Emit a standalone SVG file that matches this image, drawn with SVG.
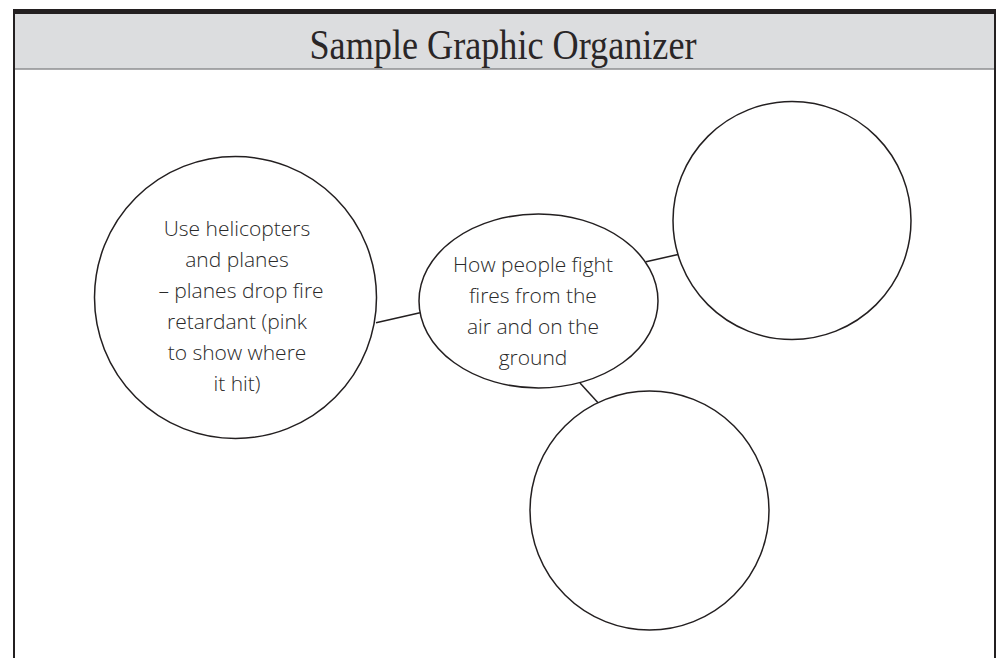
<svg xmlns="http://www.w3.org/2000/svg" width="998" height="658" viewBox="0 0 998 658">
<style>
.node{fill:#fff;stroke:#231f20;stroke-width:1.5}
.conn{stroke:#231f20;stroke-width:1.5;fill:none}
.hand{font-family:"Open Sans","Noto Sans","DejaVu Sans",sans-serif;font-weight:300;font-size:21px;fill:#2a2a2a;text-anchor:middle}
.title{font-family:"Liberation Serif","DejaVu Serif",serif;font-size:42px;fill:#2a2627;text-anchor:middle}
</style>
<rect x="0" y="0" width="998" height="658" fill="#fff"/>
<g id="frame">
<rect x="13" y="14" width="983" height="55" fill="#dcdddf"/>
<rect x="13" y="9" width="983" height="5" fill="#231f20"/>
<line x1="13" y1="69" x2="996" y2="69" stroke="#8e8e90" stroke-width="1.5"/>
<line x1="14" y1="9" x2="14" y2="658" stroke="#231f20" stroke-width="2"/>
<line x1="995" y1="9" x2="995" y2="658" stroke="#231f20" stroke-width="2"/>
<text class="title" x="503" y="59" textLength="387" lengthAdjust="spacingAndGlyphs">Sample Graphic Organizer</text>
</g>
<g id="connectors">
<line class="conn" x1="376" y1="322.7" x2="420" y2="312.7"/>
<line class="conn" x1="646" y1="261.7" x2="678" y2="254.5"/>
<line class="conn" x1="580" y1="383" x2="598" y2="402.7"/>
</g>
<g id="node-left">
<circle class="node" cx="235.5" cy="297.5" r="141"/>
<text class="hand"><tspan x="237" y="236">Use helicopters</tspan><tspan x="237" y="267">and planes</tspan><tspan x="241" y="298">– planes drop fire</tspan><tspan x="237" y="329">retardant (pink</tspan><tspan x="237" y="360">to show where</tspan><tspan x="237" y="391">it hit)</tspan></text>
</g>
<g id="node-center">
<ellipse class="node" cx="538.5" cy="301" rx="119.5" ry="87"/>
<text class="hand"><tspan x="533" y="272">How people fight</tspan><tspan x="533" y="303">fires from the</tspan><tspan x="533" y="334">air and on the</tspan><tspan x="533" y="365">ground</tspan></text>
</g>
<g id="node-top-right">
<circle class="node" cx="792" cy="220.5" r="119"/>
</g>
<g id="node-bottom">
<circle class="node" cx="649.5" cy="510.5" r="119.5"/>
</g>
</svg>
